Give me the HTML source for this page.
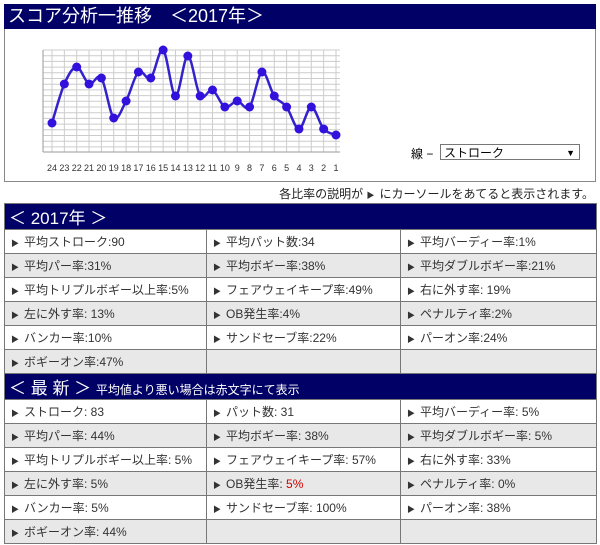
<!DOCTYPE html>
<html><head><meta charset="utf-8"><style>
body{margin:0;width:600px;height:545px;background:#fff;font-family:"Liberation Sans","Noto Sans CJK JP",sans-serif;position:relative;overflow:hidden}
.title{position:absolute;left:4px;top:4px;width:592px;height:25px;background:#000066;color:#fff;font-size:18px;line-height:25px;padding-left:4px;box-sizing:border-box}
.chartbox{position:absolute;left:4px;top:29px;width:592px;height:153px;border:1px solid #888;border-top:none;box-sizing:border-box}
.note{position:absolute;right:6px;top:185px;font-size:12px;color:#222}
table{position:absolute;left:4px;width:592px;border-collapse:collapse;font-size:12px;color:#333;table-layout:fixed}
td{border:1px solid #777;height:23px;padding:0 0 0 6px}
td.h{background:#000066;color:#fff;font-size:17px;height:23px;padding-left:4px}
tr.g td{background:#e8e8e8}
.a{font-size:8px;margin-right:5px;color:#333}
.sel{position:absolute;left:440px;top:144px;width:140px;height:16px;border:1px solid #777;font-size:12px;line-height:16px;padding-left:3px;box-sizing:border-box;background:#fff}
</style></head><body>
<div class="title">スコア分析一推移　＜2017年＞</div>
<div class="chartbox"></div>
<svg id="c" width="600" height="185" style="position:absolute;left:0;top:0"></svg>
<div style="position:absolute;left:411px;top:145px;font-size:12px">線 −</div>
<div class="sel">ストローク<span style="position:absolute;right:4px;font-size:9px">▼</span></div>
<div class="note">各比率の説明が <span class="a">▶</span>にカーソールをあてると表示されます。</div>
<table style="top:203px">
<colgroup><col style="width:202px"><col style="width:194px"><col style="width:196px"></colgroup>
<tr><td class="h" colspan="3">＜ 2017年 ＞</td></tr>
<tr><td><span class="a">▶</span>平均ストローク:90</td><td><span class="a">▶</span>平均パット数:34</td><td><span class="a">▶</span>平均バーディー率:1%</td></tr>
<tr class="g"><td><span class="a">▶</span>平均パー率:31%</td><td><span class="a">▶</span>平均ボギー率:38%</td><td><span class="a">▶</span>平均ダブルボギー率:21%</td></tr>
<tr><td><span class="a">▶</span>平均トリプルボギー以上率:5%</td><td><span class="a">▶</span>フェアウェイキープ率:49%</td><td><span class="a">▶</span>右に外す率: 19%</td></tr>
<tr class="g"><td><span class="a">▶</span>左に外す率: 13%</td><td><span class="a">▶</span>OB発生率:4%</td><td><span class="a">▶</span>ペナルティ率:2%</td></tr>
<tr><td><span class="a">▶</span>バンカー率:10%</td><td><span class="a">▶</span>サンドセーブ率:22%</td><td><span class="a">▶</span>パーオン率:24%</td></tr>
<tr class="g"><td><span class="a">▶</span>ボギーオン率:47%</td><td></td><td></td></tr>
<tr><td class="h" colspan="3">＜ 最 新 ＞ <span style="font-size:12px">平均値より悪い場合は赤文字にて表示</span></td></tr>
<tr><td><span class="a">▶</span>ストローク: 83</td><td><span class="a">▶</span>パット数: 31</td><td><span class="a">▶</span>平均バーディー率: 5%</td></tr>
<tr class="g"><td><span class="a">▶</span>平均パー率: 44%</td><td><span class="a">▶</span>平均ボギー率: 38%</td><td><span class="a">▶</span>平均ダブルボギー率: 5%</td></tr>
<tr><td><span class="a">▶</span>平均トリプルボギー以上率: 5%</td><td><span class="a">▶</span>フェアウェイキープ率: 57%</td><td><span class="a">▶</span>右に外す率: 33%</td></tr>
<tr class="g"><td><span class="a">▶</span>左に外す率: 5%</td><td><span class="a">▶</span>OB発生率: <span style="color:#c00">5%</span></td><td><span class="a">▶</span>ペナルティ率: 0%</td></tr>
<tr><td><span class="a">▶</span>バンカー率: 5%</td><td><span class="a">▶</span>サンドセーブ率: 100%</td><td><span class="a">▶</span>パーオン率: 38%</td></tr>
<tr class="g"><td><span class="a">▶</span>ボギーオン率: 44%</td><td></td><td></td></tr>
</table>
<script>
var s=document.getElementById('c'),h='';
var ys=[123,84,67,84,78,118,101,72,78,50,96,56,96,90,107,101,107,72,96,107,129,107,129,135];
var x0=52,dx=(336-52)/23;
for(var y=50;y<=148;y+=5.7)h+='<line x1="43" x2="340" y1="'+y+'" y2="'+y+'" stroke="#ccc" stroke-width="1"/>';
for(var i=0;i<24;i++){var x=x0+i*dx;h+='<line x1="'+x+'" x2="'+x+'" y1="50" y2="152" stroke="#ccc"/>';
h+='<text x="'+x+'" y="171" font-size="9" text-anchor="middle" fill="#333">'+(24-i)+'</text>';}
h+='<line x1="43" x2="340" y1="152" y2="152" stroke="#999"/><line x1="43" x2="43" y1="50" y2="152" stroke="#999"/>';
var P=ys.map(function(y,i){return[x0+i*dx,y]});
var d='M'+P[0][0]+','+P[0][1];
for(var i=0;i<23;i++){var p0=P[Math.max(i-1,0)],p1=P[i],p2=P[i+1],p3=P[Math.min(i+2,23)];
d+=' C'+(p1[0]+(p2[0]-p0[0])/6)+','+(p1[1]+(p2[1]-p0[1])/6)+' '+(p2[0]-(p3[0]-p1[0])/6)+','+(p2[1]-(p3[1]-p1[1])/6)+' '+p2[0]+','+p2[1];}
h+='<path d="'+d+'" fill="none" stroke="#3322cc" stroke-width="2.5"/>';
P.forEach(function(p){h+='<circle cx="'+p[0]+'" cy="'+p[1]+'" r="4.5" fill="#3311dd"/>'});
s.innerHTML=h;
</script>
</body></html>
